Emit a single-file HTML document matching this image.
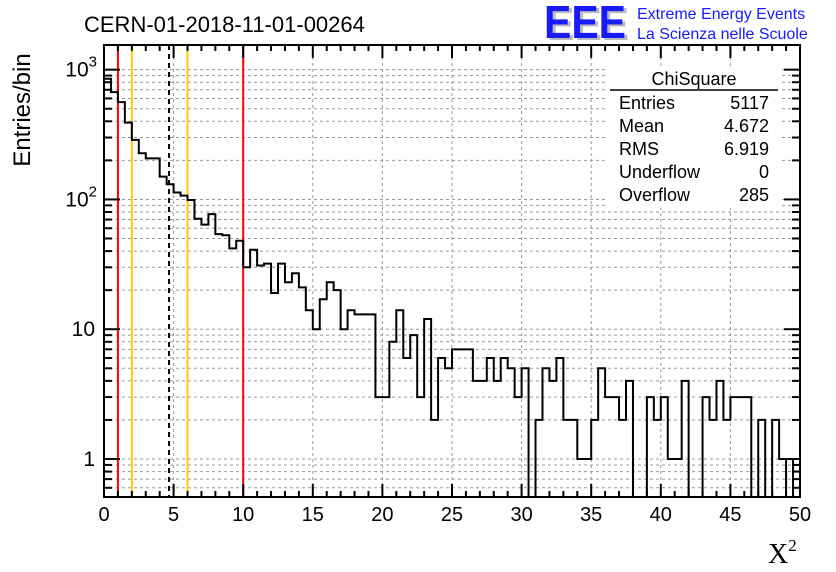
<!DOCTYPE html>
<html><head><meta charset="utf-8">
<style>
body{margin:0;background:#fff;}
svg{display:block;font-family:"Liberation Sans",sans-serif;}
</style></head>
<body>
<svg id="c" width="836" height="572" viewBox="0 0 836 572">
<rect width="836" height="572" fill="#fff"/>
<g id="grid"></g>
<g id="lines"></g>
<g id="hist"></g>
<g id="axes"></g>
<text x="84" y="32" font-size="22">CERN-01-2018-11-01-00264</text>
<g>
<text x="547" y="40" font-size="46" font-weight="bold" fill="#bbb" textLength="82" lengthAdjust="spacingAndGlyphs">EEE</text>
<text x="544" y="38" font-size="46" font-weight="bold" fill="#1a1aff" textLength="82" lengthAdjust="spacingAndGlyphs">EEE</text>
<text x="637" y="19" font-size="16" fill="#1a1aff">Extreme Energy Events</text>
<text x="637" y="39" font-size="16" fill="#1a1aff">La Scienza nelle Scuole</text>
</g>
<g font-size="18">
<rect x="608" y="66" width="172" height="142" fill="#fff"/>
<text x="694" y="85" text-anchor="middle">ChiSquare</text>
<line x1="610" y1="90" x2="778" y2="90" stroke="#000" stroke-width="1.5"/>
<text x="619" y="109">Entries</text><text x="769" y="109" text-anchor="end">5117</text>
<text x="619" y="132">Mean</text><text x="769" y="132" text-anchor="end">4.672</text>
<text x="619" y="155">RMS</text><text x="769" y="155" text-anchor="end">6.919</text>
<text x="619" y="178">Underflow</text><text x="769" y="178" text-anchor="end">0</text>
<text x="619" y="201">Overflow</text><text x="769" y="201" text-anchor="end">285</text>
</g>
<text x="22" y="110" font-size="24" text-anchor="middle" transform="rotate(-90 22 110)" dy="8">Entries/bin</text>
<text x="768" y="563" font-size="28" font-family="Liberation Serif,serif">X<tspan font-size="17" dy="-12">2</tspan></text>
</svg>
<script>
const binCounts = [851,671,562,391,288,227,207,207,150,131,113,107,99,71,64,77,54,53,42,48,30,41,31,32,19,32,23,27,21,14,10,17,23,20,10,14,13,13,13,3,3,8,14,6,9,3,12,2,6,5,7,7,7,4,4,6,4,6,5,3,5,0,2,5,4,6,2,2,1,1,2,5,3,3,2,4,0,0,3,2,3,1,1,4,0,0,3,2,4,2,3,3,3,0,2,0,2,1,0,1];
const binWidth = [0.5];
const xTicks = [0,5,10,15,20,25,30,35,40,45,50];
const yTickBase = ["1","10","10","10"];
const yTickExp = ["","","2","3"];
const refRed = [1,10];
const refYellow = [2,6];
const meanValue = [4.672];

const NS="http://www.w3.org/2000/svg";
const L=104,R=800,T=45,B=497;
const xmin=0,xmax=50,lmax=3.19;
function X(v){return L+(v-xmin)/(xmax-xmin)*(R-L);}
function Y(v){if(v<=0)return B;const l=Math.log10(v);return Math.min(B,459-(l)*(459-T)/(lmax));}
function mk(tag,attrs,parent){const e=document.createElementNS(NS,tag);for(const k in attrs)e.setAttribute(k,attrs[k]);parent.appendChild(e);return e;}
const grid=document.getElementById('grid'),axes=document.getElementById('axes'),lines=document.getElementById('lines'),hist=document.getElementById('hist');
xTicks.forEach(v=>{if(v>xmin&&v<xmax){const g=mk('line',{x1:X(v),x2:X(v),y1:T,y2:B,stroke:'#999','stroke-dasharray':'3,3','stroke-width':1},grid);

}});
for(let d=-1;d<=3;d++){for(let m=1;m<=9;m++){const v=m*Math.pow(10,d);const y=Y(v);if(y<=T||y>=B)continue;
const g=mk('line',{x1:L,x2:R,y1:y,y2:y,stroke:'#999','stroke-dasharray':'3,3','stroke-width':1},grid);


const len=m===1?16:8;
const t1=mk('line',{x1:L,x2:L+len,y1:y,y2:y,stroke:'#000','stroke-width':2},axes);


const t2=mk('line',{x1:R-len,x2:R,y1:y,y2:y,stroke:'#000','stroke-width':2},axes);

}}
refRed.forEach(v=>{const e=mk('line',{x1:X(v),x2:X(v),y1:T,y2:B,stroke:'#ff0000','stroke-width':2},lines);

});
refYellow.forEach(v=>{const e=mk('line',{x1:X(v),x2:X(v),y1:T,y2:B,stroke:'#ffcc00','stroke-width':2},lines);

});
meanValue.forEach(v=>{const e=mk('line',{x1:X(v),x2:X(v),y1:T,y2:B,stroke:'#000','stroke-width':2,'stroke-dasharray':'5,4'},lines);

});
let d='M'+X(0)+','+B;
binCounts.forEach((c,i)=>{const x0=X(i*binWidth[0]),x1=X((i+1)*binWidth[0]),y=Y(c);d+=' L'+x0+','+y+' L'+x1+','+y;});
d+=' L'+X(binCounts.length*binWidth[0])+','+B;
const p=mk('path',{d:d,fill:'none',stroke:'#000','stroke-width':2},hist);


const f=mk('rect',{x:L,y:T,width:R-L,height:B-T,fill:'none',stroke:'#000','stroke-width':2},axes);


for(let v=xmin;v<=xmax;v++){const major=v%5===0;const len=major?13:6;
const a=mk('line',{x1:X(v),x2:X(v),y1:B,y2:B-len,stroke:'#000','stroke-width':2},axes);


const b=mk('line',{x1:X(v),x2:X(v),y1:T,y2:T+len,stroke:'#000','stroke-width':2},axes);

}
xTicks.forEach(v=>{const t=mk('text',{x:X(v),y:521,'font-size':20,'text-anchor':'middle'},axes);t.textContent=String(v);

});
yTickBase.forEach((s,i)=>{const y=Y(Math.pow(10,i));const e=yTickExp[i];
const t=mk('text',{x:e?97:95,y:y+7,'font-size':21,'text-anchor':'end'},axes);
t.appendChild(document.createTextNode(s));
if(e){const ts=mk('tspan',{'font-size':15,dy:-10},t);ts.textContent=e;}

});
</script>
</body></html>
